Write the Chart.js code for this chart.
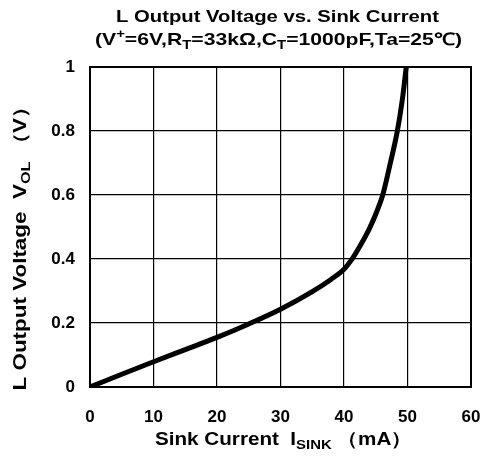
<!DOCTYPE html>
<html>
<head>
<meta charset="utf-8">
<script src="https://cdn.jsdelivr.net/npm/chart.js@4"></script>
<style>
html,body{margin:0;padding:0;background:#fff;}
#wrap{width:490px;height:460px;position:relative;}
</style>
</head>
<body>
<div id="wrap"><canvas id="c" width="490" height="460"></canvas></div>
<script>
// Data
const sinkCurrent = [0, 5, 10, 15, 20, 25, 30, 35, 38, 40, 41.2, 42.5, 44, 45.2, 46.1, 47.3, 48.4, 49.2, 49.8];
const outputVoltage = [0, 0.04, 0.079, 0.117, 0.155, 0.197, 0.243, 0.298, 0.337, 0.368, 0.398, 0.44, 0.495, 0.55, 0.6, 0.7, 0.8, 0.9, 1.0];
const xTicks = [0, 10, 20, 30, 40, 50, 60];
const yTicks = [0, 0.2, 0.4, 0.6, 0.8, 1];

const titleLine1 = [{t: 'L Output Voltage vs. Sink Current'}];
const titleLine2 = [{t: '(V'}, {t: '+', sup: true}, {t: '=6V,R'}, {t: 'T', sub: true}, {t: '=33kΩ,C'}, {t: 'T', sub: true}, {t: '=1000pF,Ta=25℃)'}];
const xTitle = [{t: 'Sink Current  I'}, {t: 'SINK', sub: true}, {t: ' （mA）'}];
const yTitle = [{t: 'L Output Voltage  V'}, {t: 'OL', sub: true}, {t: ' （V）'}];

const FONT = '"Liberation Sans", Arial, sans-serif';
const TICKFONT = '"Liberation Sans", Arial, sans-serif';

// draws rich text centred at (cx, cy), scaled horizontally to the wanted width
function drawRich(ctx, segs, cx, cy, size, wantWidth) {
  const main = 'bold ' + size + 'px ' + FONT;
  const small = 'bold ' + Math.round(size * 0.7) + 'px ' + FONT;
  let total = 0;
  const widths = segs.map(s => { ctx.font = (s.sub || s.sup) ? small : main; const w = ctx.measureText(s.t).width; total += w; return w; });
  const k = wantWidth ? wantWidth / total : 1;
  ctx.save();
  ctx.translate(cx, cy);
  ctx.scale(k, 1);
  let x = -total / 2;
  ctx.textBaseline = 'middle';
  ctx.textAlign = 'left';
  ctx.fillStyle = '#000';
  segs.forEach((s, i) => {
    ctx.font = (s.sub || s.sup) ? small : main;
    let dy = 0;
    if (s.sub) dy = size * 0.32;
    if (s.sup) dy = -size * 0.3;
    ctx.fillText(s.t, x, dy);
    x += widths[i];
  });
  ctx.restore();
}

const textPlugin = {
  id: 'richText',
  afterDraw(chart) {
    const ctx = chart.ctx;
    const a = chart.chartArea;
    const cx = (a.left + a.right) / 2;
    ctx.save();
    drawRich(ctx, titleLine1, cx - 3, 17, 17, 323);
    drawRich(ctx, titleLine2, cx - 2, 40, 17, 367);
    drawRich(ctx, xTitle, cx + 3, 440, 18, 257);
    ctx.translate(21, 243);
    ctx.rotate(-Math.PI / 2);
    drawRich(ctx, yTitle, 0, 0, 18, 295);
    ctx.restore();
  }
};

const borderPlugin = {
  id: 'frame',
  afterDatasetsDraw(chart) {
    const a = chart.chartArea;
    const ctx = chart.ctx;
    ctx.save();
    ctx.strokeStyle = '#000';
    ctx.lineWidth = 2;
    ctx.strokeRect(a.left, a.top, a.right - a.left, a.bottom - a.top);
    ctx.restore();
  }
};

new Chart(document.getElementById('c'), {
  type: 'scatter',
  data: {
    datasets: [{
      data: sinkCurrent.map((x, i) => ({x: x, y: outputVoltage[i]})),
      showLine: true,
      borderColor: '#000',
      borderWidth: 5,
      pointRadius: 0,
      cubicInterpolationMode: 'monotone',
      fill: false
    }]
  },
  options: {
    responsive: false,
    animation: false,
    devicePixelRatio: 1,
    layout: {padding: {left: 0, top: 67, right: 19, bottom: 0}},
    plugins: {legend: {display: false}, tooltip: {enabled: false}, title: {display: false}},
    scales: {
      x: {
        type: 'linear', min: 0, max: 60,
        afterBuildTicks(s) { s.ticks = xTicks.map(v => ({value: v})); },
        afterFit(s) { s.height = 73; s.paddingRight = 0; s.paddingLeft = 0; },
        grid: {color: '#000', lineWidth: 1.2, drawTicks: false},
        border: {display: false},
        ticks: {color: '#000', padding: 20, font: {family: TICKFONT, size: 17, weight: 'bold'}, maxRotation: 0}
      },
      y: {
        type: 'linear', min: 0, max: 1,
        afterBuildTicks(s) { s.ticks = yTicks.map(v => ({value: v})); },
        afterFit(s) { s.width = 90; s.paddingTop = 0; s.paddingBottom = 0; },
        grid: {color: '#000', lineWidth: 1.2, drawTicks: false},
        border: {display: false},
        ticks: {color: '#000', padding: 15, font: {family: TICKFONT, size: 17, weight: 'bold'},
          callback: v => String(v)}
      }
    }
  },
  plugins: [textPlugin, borderPlugin]
});
</script>
</body>
</html>
